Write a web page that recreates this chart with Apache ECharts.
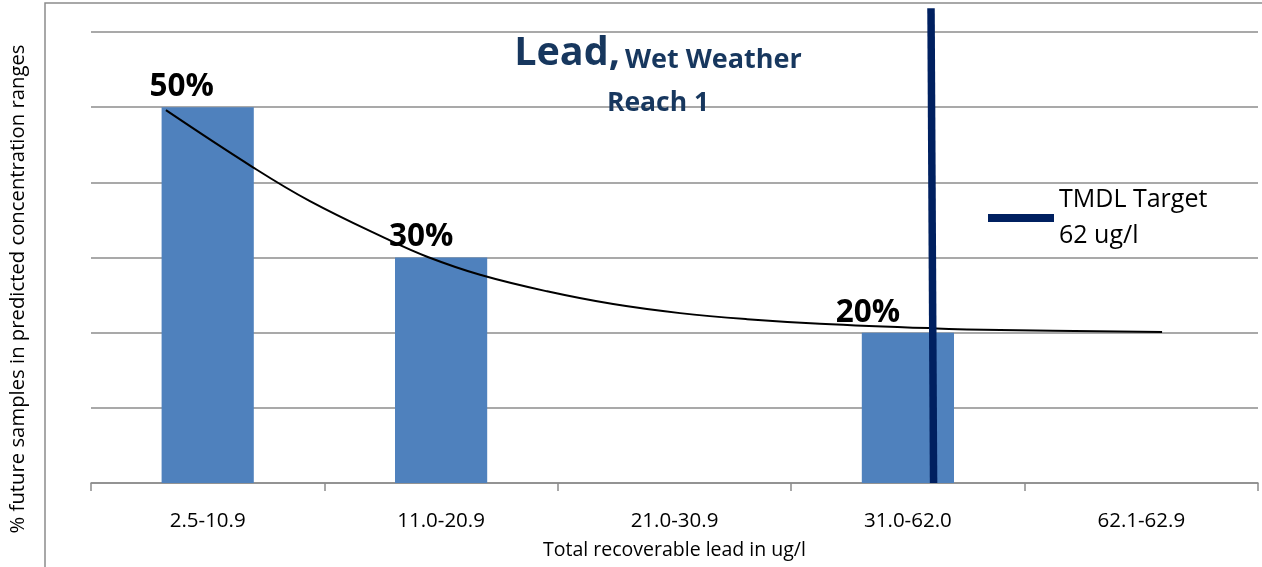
<!DOCTYPE html>
<html>
<head>
<meta charset="utf-8">
<script src="https://cdn.jsdelivr.net/npm/echarts@6/dist/echarts.min.js"></script>
<style>
  html, body { margin: 0; padding: 0; background: #ffffff; }
  #chart { width: 1262px; height: 567px; }
</style>
</head>
<body>
<div id="chart"></div>
<script>
// Concentration ranges (ug/l) on the category axis
const categories = ['2.5-10.9', '11.0-20.9', '21.0-30.9', '31.0-62.0', '62.1-62.9'];
// Share of future samples falling in each range (%), empty ranges have no bar
const shares = [50, 30, null, 20, null];
// Value-axis ticks (%), labels are hidden
const yTicks = [0, 10, 20, 30, 40, 50, 60];

// Fitted decay curve: x in category positions (1 = first range), y in %
const trendX = [0.821, 1.194, 1.438, 1.772, 1.940, 2.167, 2.454, 2.737, 3.024, 3.311, 3.623, 4.095, 4.395, 5.089];
const trendY = [49.6, 42.0, 37.5, 32.4, 30.1, 27.7, 25.5, 23.8, 22.6, 21.8, 21.2, 20.6, 20.35, 20.1];

// TMDL target marker (62 ug/l): x in category positions, y in %
const targetX = [4.099, 4.110];
const targetY = [63.15, 0];

// Horizontal nudges for the percentage labels above bars (px)
const labelShift = [-26, -20, 0, -40, 0];

const FONT = '"Open Sans", sans-serif';

const chart = echarts.init(document.getElementById('chart'), null, { renderer: 'canvas' });

const barData = shares.map((v, i) => ({
  value: v,
  label: { offset: [labelShift[i], 0] }
}));

const trendData = trendX.map((x, i) => [x, trendY[i]]);
const targetData = targetX.map((x, i) => [x, targetY[i]]);

chart.setOption({
  backgroundColor: '#ffffff',
  animation: false,
  title: [
    {
      text: '{big|Lead,} {mid|Wet Weather}',
      left: 658,
      top: 26,
      textAlign: 'center',
      padding: 0,
      textStyle: {
        rich: {
          big: { fontFamily: FONT, fontWeight: 'bold', fontSize: 39.5, color: '#17375e', lineHeight: 48, verticalAlign: 'bottom' },
          mid: { fontFamily: FONT, fontWeight: 'bold', fontSize: 27, color: '#17375e', lineHeight: 44, verticalAlign: 'bottom' }
        }
      }
    },
    {
      text: 'Reach 1',
      left: 658,
      top: 90,
      textAlign: 'center',
      padding: 0,
      textStyle: { fontFamily: FONT, fontWeight: 'bold', fontSize: 26.5, color: '#17375e' }
    }
  ],
  legend: {
    data: [{ name: 'TMDL Target\n62 ug/l', icon: 'rect' }],
    left: 988,
    top: 182,
    padding: 0,
    itemWidth: 66,
    itemHeight: 8,
    selectedMode: false,
    textStyle: { fontFamily: FONT, fontSize: 25, color: '#000000', lineHeight: 36 }
  },
  grid: { left: 91, right: 4, top: 32, bottom: 84, containLabel: false },
  xAxis: [
    {
      type: 'category',
      data: categories,
      boundaryGap: true,
      name: 'Total recoverable lead in ug/l',
      nameLocation: 'middle',
      nameGap: 57,
      nameTextStyle: { fontFamily: FONT, fontSize: 19.5, color: '#000000' },
      axisLine: { show: true, lineStyle: { color: '#8c8c8c', width: 1.5 } },
      axisTick: { show: true, length: 8, interval: 0, lineStyle: { color: '#8c8c8c', width: 1.5 } },
      axisLabel: { fontFamily: FONT, fontSize: 20.5, color: '#000000', margin: 28, interval: 0 },
      splitLine: { show: false }
    },
    {
      type: 'value',
      min: 0.5,
      max: 5.5,
      show: false,
      position: 'top'
    }
  ],
  yAxis: {
    type: 'value',
    min: yTicks[0],
    max: yTicks[yTicks.length - 1],
    interval: yTicks[1] - yTicks[0],
    axisLine: { show: false },
    axisTick: { show: false },
    axisLabel: { show: false },
    splitLine: { show: true, lineStyle: { color: '#8c8c8c', width: 1.5 } }
  },
  graphic: [
    {
      type: 'polyline',
      shape: { points: [[45, 570], [45, 3], [1265, 3]] },
      style: { stroke: '#8c8c8c', lineWidth: 1.5, fill: null },
      silent: true
    },
    {
      type: 'text',
      x: 18,
      y: 289,
      rotation: Math.PI / 2,
      style: {
        text: '% future samples in predicted concentration ranges',
        font: '20.3px ' + FONT,
        fill: '#000000',
        textAlign: 'center',
        textVerticalAlign: 'middle'
      },
      silent: true
    }
  ],
  series: [
    {
      name: 'Share',
      type: 'bar',
      xAxisIndex: 0,
      data: barData,
      barWidth: '39.5%',
      itemStyle: { color: '#4f81bd' },
      label: {
        show: true,
        position: 'top',
        distance: 4,
        formatter: p => (p.value == null ? '' : p.value + '%'),
        fontFamily: FONT,
        fontWeight: 'bold',
        fontSize: 31.5,
        color: '#000000'
      },
      z: 2
    },
    {
      name: 'Trend',
      type: 'line',
      xAxisIndex: 1,
      data: trendData,
      smooth: 0.4,
      symbol: 'none',
      lineStyle: { color: '#000000', width: 2 },
      z: 3
    },
    {
      name: 'TMDL Target\n62 ug/l',
      type: 'line',
      xAxisIndex: 1,
      data: targetData,
      symbol: 'none',
      clip: false,
      itemStyle: { color: '#002060' },
      lineStyle: { color: '#002060', width: 7.5 },
      z: 4
    }
  ]
});
</script>
</body>
</html>
